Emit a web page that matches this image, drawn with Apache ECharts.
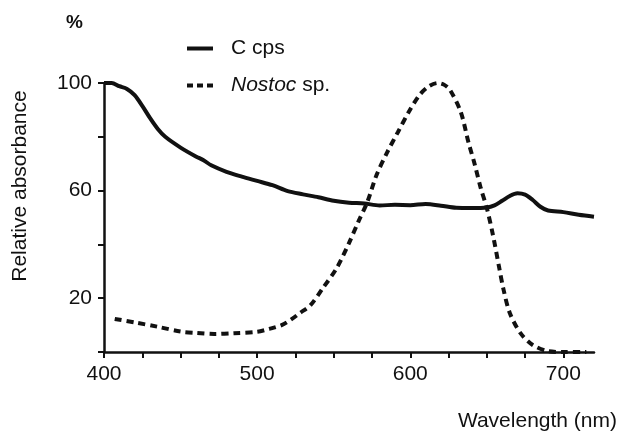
<!DOCTYPE html>
<html>
<head>
<meta charset="utf-8">
<script src="https://cdn.jsdelivr.net/npm/echarts@6/dist/echarts.min.js"></script>
<style>
  html, body { margin: 0; padding: 0; background: #fff; }
  #chart { width: 620px; height: 433px; }
</style>
</head>
<body>
<div id="chart"></div>
<script>
// wavelengths (nm) and relative absorbance (%)
var cpsNm = [400, 405, 410, 415, 420, 425, 430, 435, 440, 450, 460, 465, 470, 480, 490, 500,
  510, 520, 530, 540, 550, 560, 570, 580, 590, 600, 610, 620, 630, 640, 650, 655, 660, 665,
  670, 675, 680, 685, 690, 700, 710, 720];
var cpsVal = [100, 100, 98.8, 97.8, 95.5, 91.5, 87, 83, 80, 76, 72.7, 71.3, 69.4, 67, 65.2, 63.6,
  62, 59.8, 58.6, 57.5, 56.2, 55.5, 55.2, 54.5, 54.7, 54.6, 55, 54.4, 53.6, 53.5, 53.7, 54.5, 56.2, 58,
  59, 58.5, 56.5, 54, 52.6, 52, 51, 50.3];

var nostocNm = [407, 420, 435, 450, 460, 472, 485, 500, 508, 516, 522, 528, 535, 543, 552, 560,
  566, 572, 578, 585, 592, 599, 606, 612, 618, 622, 626, 633, 638, 642, 646, 650, 654, 658, 661,
  665, 672, 680, 690, 700, 715];
var nostocVal = [12.3, 11, 9.4, 7.6, 7.1, 6.7, 7, 7.5, 8.6, 10, 12, 14.5, 17.5, 23.8, 31.2, 40.5,
  48.3, 55.8, 65.8, 74.3, 81.8, 89.2, 95.5, 98.7, 100, 99.4, 97.4, 89.2, 78, 70, 61, 53.5, 43.5, 31.6, 23,
  14.5, 7, 2.6, 0.3, 0, 0];

var xTicks = [400, 425, 450, 475, 500, 525, 550, 575, 600, 625, 650, 675, 700];
var xLabels = [400, 500, 600, 700];
var yLabels = [20, 60, 100];

var font = 'Liberation Sans, Arial, sans-serif';

function pairs(xs, ys) {
  var out = [];
  for (var i = 0; i < xs.length; i++) {
    out.push([xs[i], ys[i]]);
  }
  return out;
}

var chart = echarts.init(document.getElementById('chart'));

var option = {
  backgroundColor: '#fff',
  animation: false,
  grid: { left: 104, right: 26, top: 83, bottom: 81 },
  legend: {
    orient: 'vertical',
    left: 182,
    top: 33,
    itemWidth: 26,
    itemHeight: 4,
    itemGap: 16,
    data: [
      { name: 'C cps', icon: 'path://M0,0h26v4h-26z' },
      { name: 'Nostoc sp.', icon: 'path://M0,0h6v4h-6z M10,0h6v4h-6z M20,0h6v4h-6z' }
    ],
    textStyle: {
      fontFamily: font,
      fontSize: 21,
      color: '#111',
      padding: [0, 0, 0, 13],
      rich: {
        i: { fontFamily: font, fontSize: 21, fontStyle: 'italic', color: '#111' }
      }
    },
    formatter: function (name) {
      if (name === 'Nostoc sp.') return '{i|Nostoc} sp.';
      return name;
    }
  },
  xAxis: {
    type: 'value',
    min: 400,
    max: 720,
    interval: 25,
    splitLine: { show: false },
    axisLine: { lineStyle: { color: '#111', width: 2.5 } },
    axisTick: { length: 6, lineStyle: { color: '#111', width: 2 }, customValues: xTicks },
    axisLabel: {
      color: '#111', fontFamily: font, fontSize: 21, margin: 12,
      customValues: xLabels
    }
  },
  yAxis: {
    type: 'value',
    min: 0,
    max: 100,
    interval: 20,
    splitLine: { show: false },
    axisLine: { show: true, lineStyle: { color: '#111', width: 2.5 } },
    axisTick: { show: true, length: 6, lineStyle: { color: '#111', width: 2 } },
    axisLabel: {
      color: '#111', fontFamily: font, fontSize: 21, margin: 12,
      customValues: yLabels
    }
  },
  graphic: [
    {
      type: 'text', left: 66, top: 13,
      style: { text: '%', fontFamily: font, fontSize: 19, fontWeight: 'bold', fill: '#111' }
    },
    {
      type: 'text', x: 20, y: 186, rotation: Math.PI / 2,
      style: {
        text: 'Relative absorbance', fontFamily: font, fontSize: 21, fill: '#111',
        align: 'center', verticalAlign: 'middle'
      }
    },
    {
      type: 'text', x: 617, y: 421,
      style: {
        text: 'Wavelength (nm)', fontFamily: font, fontSize: 21, fill: '#111',
        align: 'right', verticalAlign: 'middle'
      }
    }
  ],
  series: [
    {
      name: 'C cps',
      type: 'line',
      data: pairs(cpsNm, cpsVal),
      smooth: 0.3,
      symbol: 'none',
      lineStyle: { color: '#111', width: 4 },
      itemStyle: { color: '#111' }
    },
    {
      name: 'Nostoc sp.',
      type: 'line',
      data: pairs(nostocNm, nostocVal),
      smooth: 0.3,
      symbol: 'none',
      lineStyle: { color: '#111', width: 4, type: [7, 5] },
      itemStyle: { color: '#111' }
    }
  ]
};

chart.setOption(option);
</script>
</body>
</html>
